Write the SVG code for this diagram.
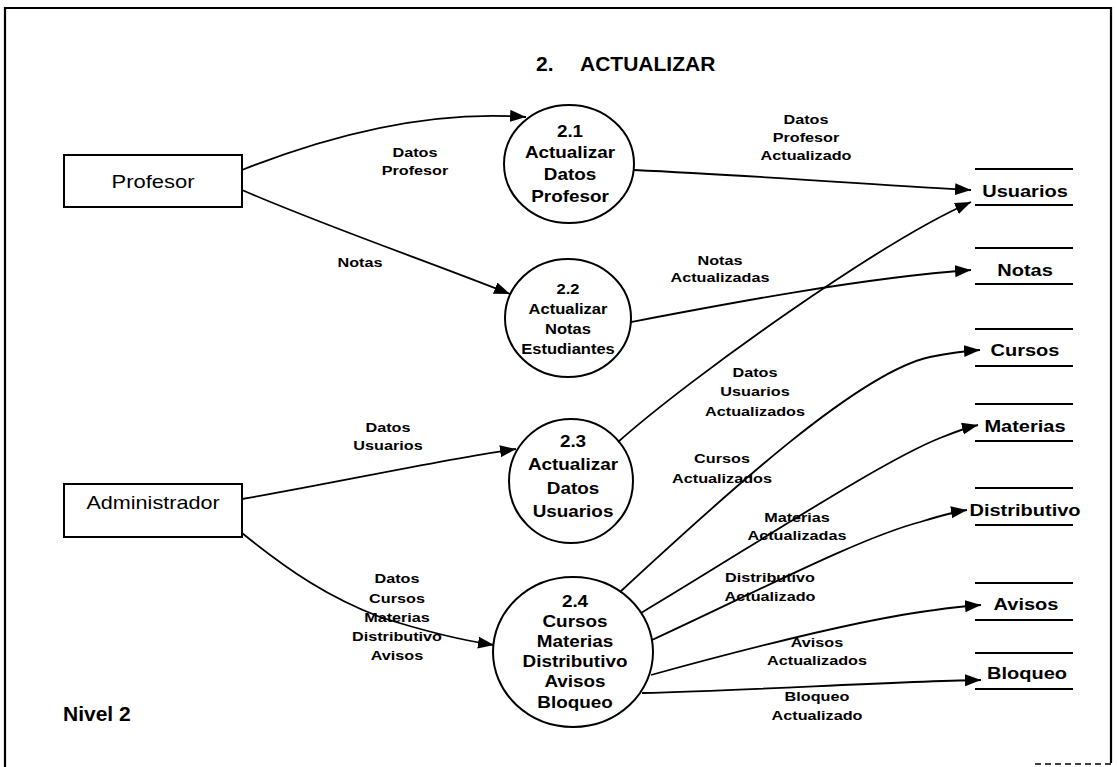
<svg xmlns="http://www.w3.org/2000/svg" width="1117" height="767" viewBox="0 0 1117 767">
<style>
.frame{fill:none;stroke:#000;stroke-width:2.2}
.box{fill:#fff;stroke:#000;stroke-width:2}
.proc{fill:#fff;stroke:#000;stroke-width:2}
.store{stroke:#000;stroke-width:2}
.edge{fill:none;stroke:#000;stroke-width:1.8;marker-end:url(#arr)}
text{fill:#000;text-anchor:middle;font-family:"Liberation Sans",Arial,sans-serif}
.c{font-size:16px;font-weight:bold}
.c2{font-size:14.5px;font-weight:bold}
.l{font-size:13.5px;font-weight:bold}
.b{font-size:18px}
.s{font-size:16px;font-weight:bold}
.t{font-size:21px;font-weight:bold;text-anchor:start}
</style>
<defs>
<marker id="arr" markerUnits="userSpaceOnUse" markerWidth="17" markerHeight="13" refX="16" refY="6" orient="auto">
<path d="M0,0 L16,6 L0,12 z" fill="#000"/>
</marker>
</defs>
<rect width="1117" height="767" fill="#fff"/>
<path class="frame" d="M5,767 L5,8 L1111,8 L1111,763"/>
<path d="M1035,764 L1111,764" stroke="#000" stroke-width="1.5" stroke-dasharray="6 4"/>
<text class="t"><tspan x="536" y="71">2.</tspan><tspan x="580" y="71">ACTUALIZAR</tspan></text>
<text class="t" x="63" y="721">Nivel 2</text>

<g id="profesor">
<rect class="box" x="64" y="155" width="178" height="52"/>
<g transform="translate(153 0) scale(1.22 1)"><text class="b" x="0" y="188">Profesor</text></g>
</g>
<g id="administrador">
<rect class="box" x="64" y="484" width="178" height="53"/>
<g transform="translate(153 0) scale(1.2 1)"><text class="b" x="0" y="509">Administrador</text></g>
</g>

<g id="p21">
<ellipse class="proc" cx="569" cy="164" rx="65" ry="59"/>
<g transform="translate(570 0) scale(1.18 1)">
<text class="c" x="0" y="137">2.1</text><text class="c" x="0" y="158">Actualizar</text><text class="c" x="0" y="180">Datos</text><text class="c" x="0" y="202">Profesor</text>
</g>
</g>
<g id="p22">
<ellipse class="proc" cx="568" cy="318" rx="63" ry="59"/>
<g transform="translate(568 0) scale(1.14 1)">
<text class="c2" x="0" y="294">2.2</text><text class="c2" x="0" y="314">Actualizar</text><text class="c2" x="0" y="334">Notas</text><text class="c2" x="0" y="354">Estudiantes</text>
</g>
</g>
<g id="p23">
<ellipse class="proc" cx="571" cy="481" rx="62" ry="62"/>
<g transform="translate(573 0) scale(1.18 1)">
<text class="c" x="0" y="447">2.3</text><text class="c" x="0" y="470">Actualizar</text><text class="c" x="0" y="494">Datos</text><text class="c" x="0" y="517">Usuarios</text>
</g>
</g>
<g id="p24">
<ellipse class="proc" cx="573" cy="652" rx="80" ry="75"/>
<g transform="translate(575 0) scale(1.18 1)">
<text class="c" x="0" y="607">2.4</text><text class="c" x="0" y="627">Cursos</text><text class="c" x="0" y="647">Materias</text><text class="c" x="0" y="667">Distributivo</text><text class="c" x="0" y="687">Avisos</text><text class="c" x="0" y="708">Bloqueo</text>
</g>
</g>

<g id="s-usuarios"><line class="store" x1="975" y1="169" x2="1073" y2="169"/><line class="store" x1="975" y1="205" x2="1073" y2="205"/><g transform="translate(1025 0) scale(1.25 1)"><text class="s" x="0" y="197">Usuarios</text></g></g>
<g id="s-notas"><line class="store" x1="975" y1="248" x2="1073" y2="248"/><line class="store" x1="975" y1="284" x2="1073" y2="284"/><g transform="translate(1025 0) scale(1.25 1)"><text class="s" x="0" y="276">Notas</text></g></g>
<g id="s-cursos"><line class="store" x1="975" y1="329" x2="1073" y2="329"/><line class="store" x1="975" y1="366" x2="1073" y2="366"/><g transform="translate(1025 0) scale(1.25 1)"><text class="s" x="0" y="356">Cursos</text></g></g>
<g id="s-materias"><line class="store" x1="975" y1="404" x2="1073" y2="404"/><line class="store" x1="975" y1="441" x2="1073" y2="441"/><g transform="translate(1025 0) scale(1.25 1)"><text class="s" x="0" y="432">Materias</text></g></g>
<g id="s-distributivo"><line class="store" x1="975" y1="488" x2="1073" y2="488"/><line class="store" x1="975" y1="525" x2="1073" y2="525"/><g transform="translate(1025 0) scale(1.25 1)"><text class="s" x="0" y="516">Distributivo</text></g></g>
<g id="s-avisos"><line class="store" x1="975" y1="583" x2="1073" y2="583"/><line class="store" x1="975" y1="620" x2="1073" y2="620"/><g transform="translate(1026 0) scale(1.25 1)"><text class="s" x="0" y="610">Avisos</text></g></g>
<g id="s-bloqueo"><line class="store" x1="975" y1="653" x2="1073" y2="653"/><line class="store" x1="975" y1="689" x2="1073" y2="689"/><g transform="translate(1027 0) scale(1.25 1)"><text class="s" x="0" y="679">Bloqueo</text></g></g>

<g id="connectors">
<path class="edge" d="M242,170 C330,135 430,110 526,117"/>
<path class="edge" d="M242,190 C330,228 430,262 510,294"/>
<path class="edge" d="M634,170 C760,176 880,185 971,190"/>
<path class="edge" d="M631,322 C720,305 860,278 971,270"/>
<path class="edge" d="M242,499 C330,484 440,460 516,449"/>
<path class="edge" d="M242,533 C290,572 330,598 380,617 C430,633 460,640 494,645"/>
<path class="edge" d="M618,442 C690,378 880,242 971,202"/>
<path class="edge" d="M620,592 C730,490 860,372 930,357 C950,353 965,351 980,350"/>
<path class="edge" d="M641,613 C750,548 880,462 940,438 C955,432 965,428 978,425"/>
<path class="edge" d="M652,640 C760,590 860,538 920,522 C940,516 953,512 967,510"/>
<path class="edge" d="M651,675 C760,645 870,618 935,610 C955,607 968,606 981,605"/>
<path class="edge" d="M642,693 C760,690 880,682 981,680"/>
</g>

<g id="labels">
<g transform="translate(415 0) scale(1.2 1)"><text class="l" x="0" y="157">Datos</text><text class="l" x="0" y="175">Profesor</text></g>
<g transform="translate(360 0) scale(1.2 1)"><text class="l" x="0" y="267">Notas</text></g>
<g transform="translate(806 0) scale(1.2 1)"><text class="l" x="0" y="124">Datos</text><text class="l" x="0" y="142">Profesor</text><text class="l" x="0" y="160">Actualizado</text></g>
<g transform="translate(720 0) scale(1.2 1)"><text class="l" x="0" y="265">Notas</text><text class="l" x="0" y="282">Actualizadas</text></g>
<g transform="translate(388 0) scale(1.2 1)"><text class="l" x="0" y="432">Datos</text><text class="l" x="0" y="450">Usuarios</text></g>
<g transform="translate(755 0) scale(1.2 1)"><text class="l" x="0" y="377">Datos</text><text class="l" x="0" y="396">Usuarios</text><text class="l" x="0" y="416">Actualizados</text></g>
<g transform="translate(722 0) scale(1.2 1)"><text class="l" x="0" y="463">Cursos</text><text class="l" x="0" y="483">Actualizados</text></g>
<g transform="translate(797 0) scale(1.2 1)"><text class="l" x="0" y="522">Materias</text><text class="l" x="0" y="540">Actualizadas</text></g>
<g transform="translate(770 0) scale(1.2 1)"><text class="l" x="0" y="582">Distributivo</text><text class="l" x="0" y="601">Actualizado</text></g>
<g transform="translate(817 0) scale(1.2 1)"><text class="l" x="0" y="647">Avisos</text><text class="l" x="0" y="665">Actualizados</text></g>
<g transform="translate(817 0) scale(1.2 1)"><text class="l" x="0" y="701">Bloqueo</text><text class="l" x="0" y="720">Actualizado</text></g>
<g transform="translate(397 0) scale(1.2 1)"><text class="l" x="0" y="583">Datos</text><text class="l" x="0" y="603">Cursos</text><text class="l" x="0" y="622">Materias</text><text class="l" x="0" y="641">Distributivo</text><text class="l" x="0" y="660">Avisos</text></g>
</g>
</svg>
